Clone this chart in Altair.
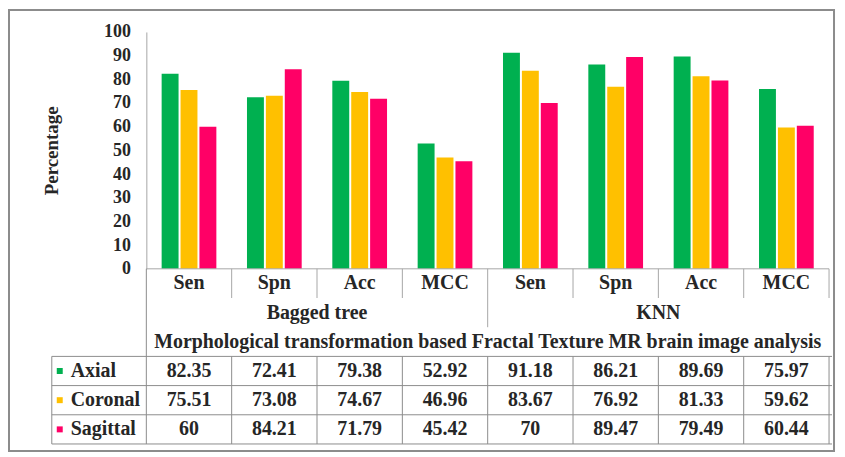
import altair as alt
import pandas as pd

groups = ["Bagged tree", "KNN"]
metrics = ["Sen", "Spn", "Acc", "MCC"]
series = ["Axial", "Coronal", "Sagittal"]
axial = [82.35, 72.41, 79.38, 52.92, 91.18, 86.21, 89.69, 75.97]
coronal = [75.51, 73.08, 74.67, 46.96, 83.67, 76.92, 81.33, 59.62]
sagittal = [60, 84.21, 71.79, 45.42, 70, 89.47, 79.49, 60.44]
colors = ["#00b050", "#ffc000", "#ff0066"]
title_text = "Morphological transformation based Fractal Texture MR brain image analysis"
y_ticks = list(range(0, 101, 10))

cats = [f"{g}|{m}" for g in groups for m in metrics]
rows = ["cat", "group", "title"] + series

FONT = "'Liberation Serif', 'Times New Roman', Times, serif"
TXT = "#262626"
LINE = "#a6a6a6"
TLINE = "#8c8c8c"
FS = 20

W, H = 686, 414
Y0 = 238

vals = {"Axial": axial, "Coronal": coronal, "Sagittal": sagittal}
recs = []
for s in series:
    for c, v in zip(cats, vals[s]):
        recs.append({"cat": c, "series": s, "value": v, "label": f"{v:g}", "row": s})
bars_df = pd.DataFrame(recs)

xs = alt.Scale(domain=cats, paddingInner=0, paddingOuter=0)
row_scale = alt.Scale(domain=rows, range=[Y0, H], paddingInner=0, paddingOuter=0)
col_scale = alt.Scale(domain=series, range=colors)


def X(field="cat", bp=0.5):
    return alt.X(f"{field}:N", scale=xs, bandPosition=bp, axis=None)


def R(field="row", bp=0.5):
    return alt.Y(f"{field}:N", scale=row_scale, bandPosition=bp, axis=None)


bars = alt.Chart(bars_df).mark_bar().encode(
    x=alt.X("cat:N", scale=xs, axis=None),
    xOffset=alt.XOffset("series:N", scale=alt.Scale(domain=series, paddingInner=0.105, paddingOuter=0.81)),
    y=alt.Y(
        "value:Q",
        scale=alt.Scale(domain=[0, 100], range=[Y0, 0], nice=False, zero=True),
        axis=alt.Axis(
            values=y_ticks, grid=False, ticks=False, domainColor=LINE,
            labelFont=FONT, labelFontWeight="bold", labelFontSize=18, labelColor=TXT,
            labelPadding=16, title="Percentage", titleFont=FONT, titleFontWeight="bold",
            titleFontSize=19, titleColor=TXT, titleX=-95, titleY=119, titleAngle=270,
            titleBaseline="middle", titleAlign="center",
        ),
    ),
    color=alt.Color("series:N", scale=col_scale, legend=None),
)


def text_layer(df, xbp=0.5, **kw):
    return alt.Chart(df).mark_text(font=FONT, fontWeight="bold", fontSize=FS, color=TXT, **kw).encode(
        x=X("cat", xbp), y=R("row"), text="label:N"
    )


cat_df = pd.DataFrame({"cat": cats, "row": "cat", "label": [c.split("|")[1] for c in cats]})
grp_df = pd.DataFrame({"cat": [f"{g}|Acc" for g in groups], "row": "group", "label": groups})
ttl_df = pd.DataFrame({"cat": ["KNN|Sen"], "row": ["title"], "label": [title_text]})

cat_text = text_layer(cat_df)
grp_text = text_layer(grp_df, xbp=0)
ttl_text = text_layer(ttl_df, xbp=0)
val_text = text_layer(bars_df)

lab_df = pd.DataFrame({"series": series, "row": series})
squares = alt.Chart(lab_df).mark_square(size=36, opacity=1).encode(
    x=alt.value(-87), y=R("row"), color=alt.Color("series:N", scale=col_scale, legend=None)
)
lab_text = alt.Chart(lab_df).mark_text(font=FONT, fontWeight="bold", fontSize=FS, color=TXT, align="left").encode(
    x=alt.value(-76), y=R("row"), text="series:N"
)


def vrules(cat_list, bp, top, bot, color=LINE):
    df = pd.DataFrame({"cat": cat_list, "r1": top, "r2": bot})
    return alt.Chart(df).mark_rule(color=color, strokeWidth=1).encode(
        x=X("cat", bp), y=R("r1", 0), y2=alt.Y2("r2:N", bandPosition=1)
    )


inner = [c for c in cats if not c.endswith("|Sen")]
v_cat = vrules(inner, 0, "cat", "cat")
v_right = vrules([cats[-1]], 1, "cat", "cat")
v_grp = vrules(["KNN|Sen"], 0, "cat", "group")
v_left = vrules([cats[0]], 0, "cat", "Sagittal", color=TLINE)
v_tab = vrules(cats[1:], 0, "Axial", "Sagittal", color=TLINE)
v_tab_r = vrules([cats[-1]], 1, "Axial", "Sagittal", color=TLINE)

tl_df = pd.DataFrame({"r1": ["Axial"], "r2": ["Sagittal"]})
v_tab_l = alt.Chart(tl_df).mark_rule(color=TLINE).encode(
    x=alt.value(-95), y=R("r1", 0), y2=alt.Y2("r2:N", bandPosition=1)
)

h_df = pd.DataFrame({"row": series})
h_top = alt.Chart(h_df).mark_rule(color=TLINE).encode(y=R("row", 0), x=alt.value(-95), x2=alt.value(689))
h_bot = alt.Chart(pd.DataFrame({"row": ["Sagittal"]})).mark_rule(color=TLINE).encode(
    y=R("row", 1), x=alt.value(-95), x2=alt.value(689)
)
x_axis = alt.Chart(pd.DataFrame({"row": ["cat"]})).mark_rule(color=LINE).encode(
    y=R("row", 0), x=alt.value(0), x2=alt.value(W)
)

border = alt.Chart(pd.DataFrame({"a": [0]})).mark_rect(fill=None, stroke="#8c8c8c", strokeWidth=2).encode(
    x=alt.value(-138), x2=alt.value(691), y=alt.value(-22), y2=alt.value(421)
)

chart = alt.layer(
    border, bars, x_axis, v_cat, v_right, v_grp, v_left, v_tab, v_tab_r, v_tab_l, h_top, h_bot,
    cat_text, grp_text, ttl_text, val_text, squares, lab_text,
).resolve_scale(y="independent").properties(
    width=W, height=H,
    autosize=alt.AutoSizeParams(type="none"),
    padding={"left": 139, "top": 23, "right": 8, "bottom": 9},
    background="white",
).configure_view(stroke=None)

chart.save("out.html", embed_options={"renderer": "svg", "actions": False})
